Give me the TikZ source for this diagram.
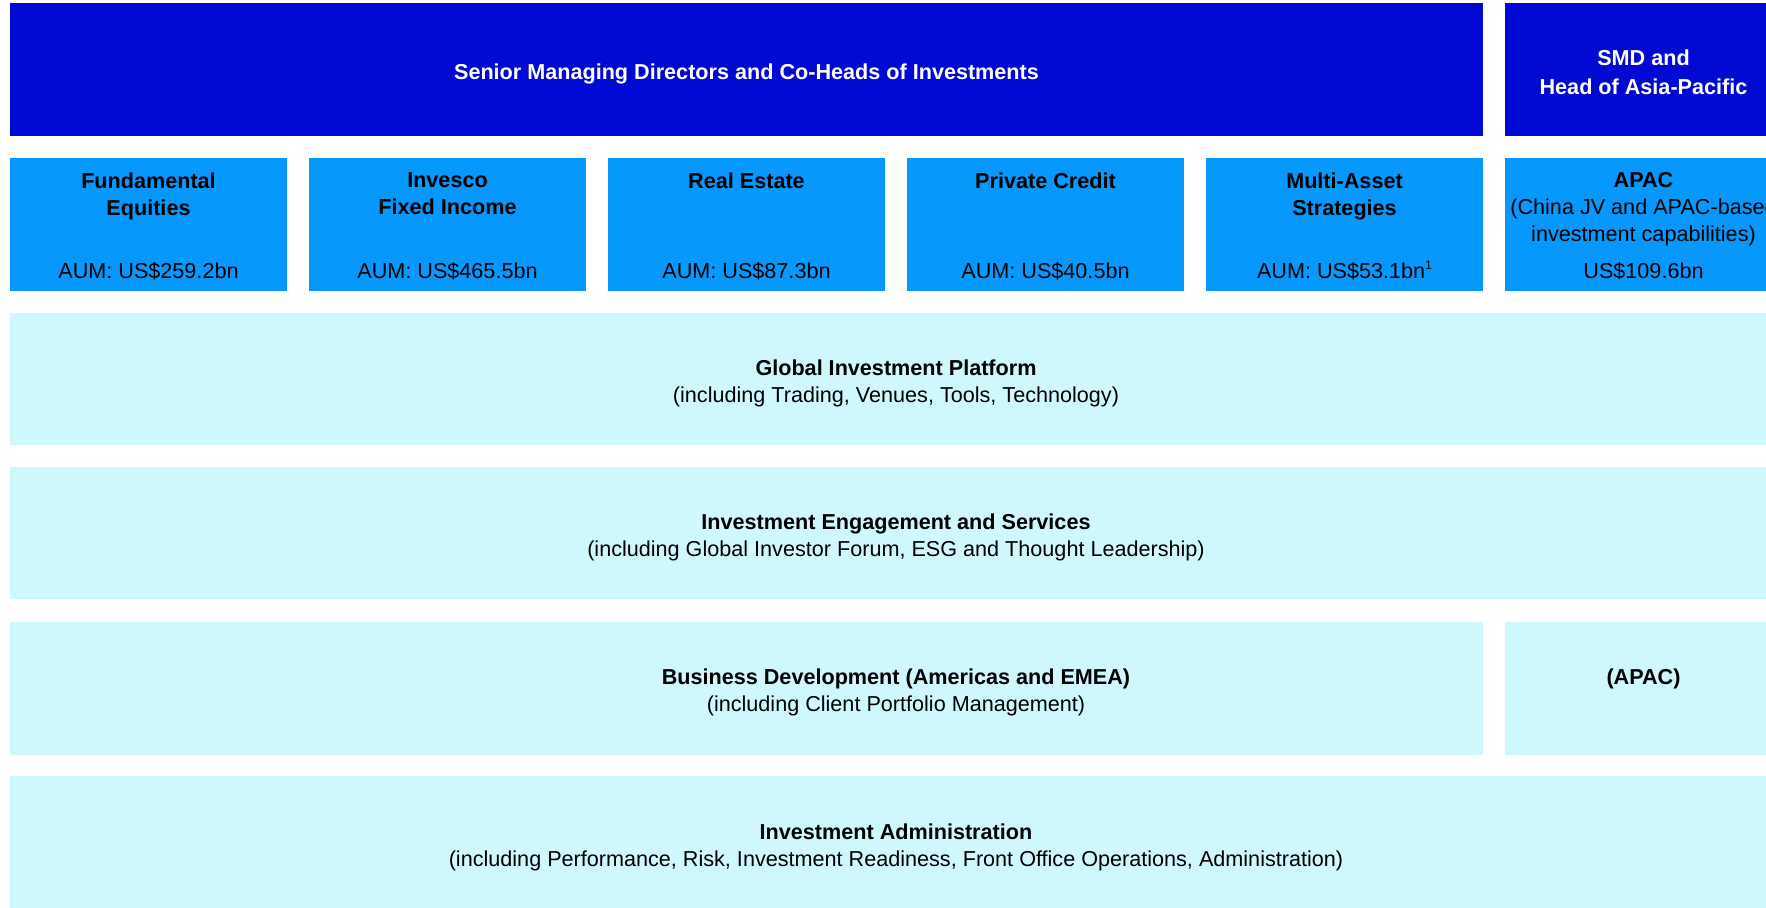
\documentclass[tikz,border=0pt]{standalone}
\usepackage{fontspec}
\setmainfont{Liberation Sans}
\usetikzlibrary{positioning}
\definecolor{headblue}{RGB}{0,10,210}
\definecolor{deskblue}{RGB}{6,152,252}
\definecolor{platformblue}{RGB}{206,248,252}
\newcommand\chartfont{\fontsize{12.3pt}{15.4pt}\selectfont}
\begin{document}
\begin{tikzpicture}[x=0.02cm, y=-0.02cm,
   head/.style = {fill=headblue, minimum height=2.66cm, inner sep=0pt},
   headtext/.style = {text=white, font=\chartfont\bfseries, align=center, inner sep=0pt},
   desk/.style = {fill=deskblue, minimum width=5.54cm, minimum height=2.66cm, inner sep=0pt},
   band/.style = {fill=platformblue, minimum height=2.66cm, inner sep=0pt},
   title/.style = {font=\chartfont\bfseries, align=center, inner sep=0pt},
   plain/.style = {font=\chartfont, align=center, inner sep=0pt}]
   \useasboundingbox (0,0) rectangle (1766,907);
   \clip (0,0) rectangle (1766,907);
   % heads
   \node[head, minimum width=29.46cm] (coheads) at (746.5,69.5) {};
   \node[head, minimum width=5.54cm] (smd) at (1643.5,69.5) {};
   \node[headtext] (cohtext) at ([yshift=-0.08cm]coheads.center) {Senior Managing Directors and Co-Heads of Investments};
   \node[headtext] (smdtext) at ([yshift=-0.05cm]smd.center) {SMD and\\[1pt]Head of Asia-Pacific};
   % investment desks
   \node[desk] (equities) at (148.5,224.5) {};
   \node[desk] (fixedinc) at (447.5,224.5) {};
   \node[desk] (realestate) at (746.5,224.5) {};
   \node[desk] (privcredit) at (1045.5,224.5) {};
   \node[desk] (multiasset) at (1344.5,224.5) {};
   \node[desk] (apac) at (1643.5,224.5) {};
   \node[title, below=0.29cm of equities.north] (equitiesname) {Fundamental\\Equities};
   \node[title, below=0.29cm of fixedinc.north] (fixedincname) {Invesco\\Fixed Income};
   \node[title, below=0.29cm of realestate.north] (realestatename) {Real Estate};
   \node[title, below=0.29cm of privcredit.north] (privcreditname) {Private Credit};
   \node[title, below=0.29cm of multiasset.north] (multiassetname) {Multi-Asset\\Strategies};
   \node[title, below=0.29cm of apac.north] (apacname) {APAC\\\mdseries(China JV and APAC-based\\\mdseries investment capabilities)};
   \node[plain, above=0.22cm of equities.south] (equitiesaum) {AUM: US\$259.2bn};
   \node[plain, above=0.22cm of fixedinc.south] (fixedincaum) {AUM: US\$465.5bn};
   \node[plain, above=0.22cm of realestate.south] (realestateaum) {AUM: US\$87.3bn};
   \node[plain, above=0.22cm of privcredit.south] (privcreditaum) {AUM: US\$40.5bn};
   \node[plain, above=0.22cm of multiasset.south] (multiassetaum) {AUM: US\$53.1bn\raisebox{0.42em}{\fontsize{7pt}{7pt}\selectfont 1}};
   \node[plain, above=0.22cm of apac.south] (apacaum) {US\$109.6bn};
   % platform bands
   \node[band, minimum width=35.44cm] (platform) at (896,379) {};
   \node[plain] (platformtext) at ([yshift=-0.08cm]platform.center) {\bfseries Global Investment Platform\\(including Trading, Venues, Tools, Technology)};
   \node[band, minimum width=35.44cm] (engagement) at (896,533) {};
   \node[plain] (engagementtext) at ([yshift=-0.08cm]engagement.center) {\bfseries Investment Engagement and Services\\(including Global Investor Forum, ESG and Thought Leadership)};
   \node[band, minimum width=29.46cm] (bizdev) at (746.5,688.5) {};
   \node[band, minimum width=5.54cm] (apacbd) at (1643.5,688.5) {};
   \node[plain] (bizdevtext) at (896,692) {\bfseries Business Development (Americas and EMEA)\\(including Client Portfolio Management)};
   \node[title, anchor=north] (apacbdtext) at (bizdevtext.north -| apacbd) {(APAC)};
   \node[band, minimum width=35.44cm] (admin) at (896,842.5) {};
   \node[plain] (admintext) at (896,847) {\bfseries Investment Administration\\(including Performance, Risk, Investment Readiness, Front Office Operations, Administration)};
\end{tikzpicture}
\end{document}
